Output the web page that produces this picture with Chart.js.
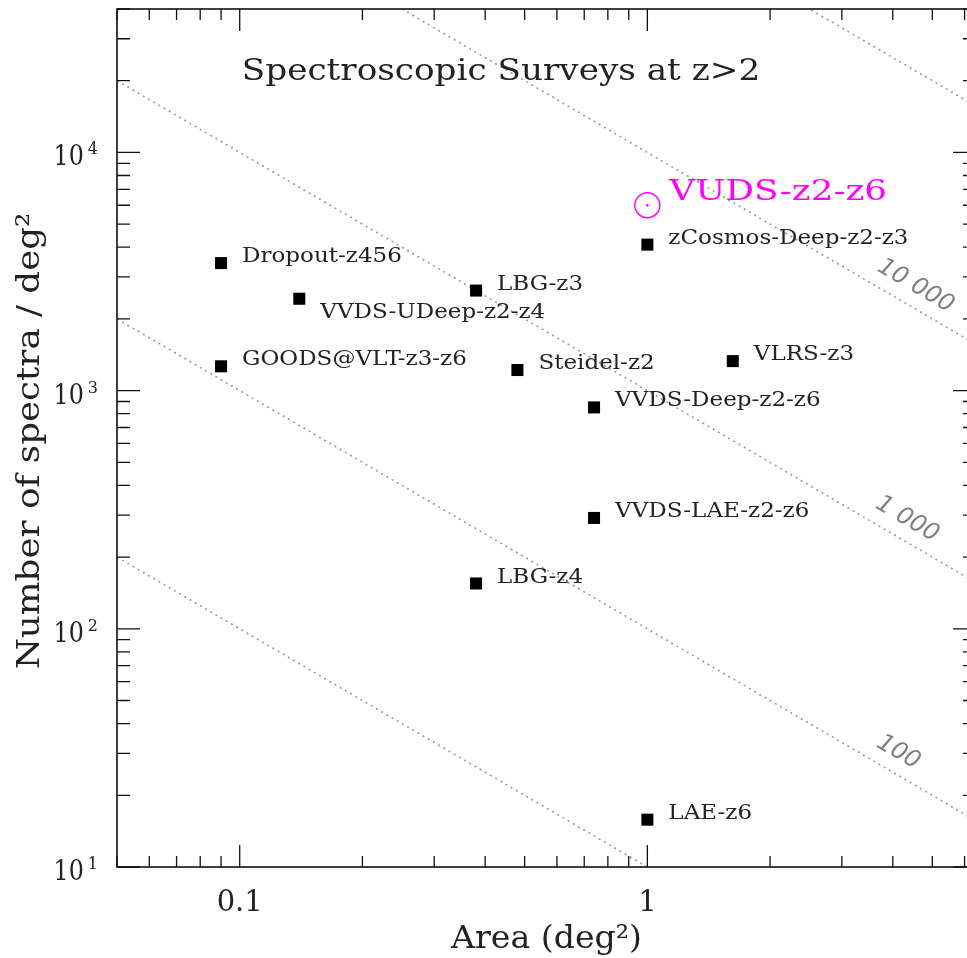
<!DOCTYPE html>
<html>
<head>
<meta charset="utf-8">
<title>Spectroscopic Surveys at z&gt;2</title>
<script src="https://cdn.jsdelivr.net/npm/chart.js@4.4.1/dist/chart.umd.min.js"></script>
<style>
  html, body { margin: 0; padding: 0; background: #fff; overflow: hidden; }
  #wrap { width: 980px; height: 958px; }
</style>
</head>
<body>
<div id="wrap"><canvas id="surveys" width="980" height="958"></canvas></div>
<script>
// surveys: area (deg^2) vs number of spectra per deg^2
const surveyNames = ['Dropout-z456', 'VVDS-UDeep-z2-z4', 'LBG-z3', 'GOODS@VLT-z3-z6', 'Steidel-z2',
  'VVDS-Deep-z2-z6', 'zCosmos-Deep-z2-z3', 'VLRS-z3', 'VVDS-LAE-z2-z6', 'LBG-z4', 'LAE-z6'];
const surveyArea = [0.09, 0.14, 0.38, 0.09, 0.48, 0.74, 1.0, 1.62, 0.74, 0.38, 1.0];
const surveyDensity = [3430, 2430, 2630, 1265, 1220, 850, 4100, 1330, 292, 155, 15.8];

const vudsName = 'VUDS-z2-z6';
const vudsArea = [1.0];
const vudsDensity = [6000];

// constant total number of spectra (area x density)
const totalLevels = [10, 100, 1000, 10000, 100000];
const totalLabels = ['', '100', '1 000', '10 000', ''];

const xTickValues = [0.1, 1];
const xTickLabels = ['0.1', '1'];
const yTickValues = [10, 100, 1000, 10000];
const yTickExponents = ['1', '2', '3', '4'];

const xMin = 0.05, xMax = 6.4;
const yMin = 10, yMax = 40000;

const SERIF = '"DejaVu Serif", "Liberation Serif", serif';

function pickLabel(values, labels, value) {
  const i = values.findIndex(v => Math.abs(v - value) < v * 1e-6);
  return i >= 0 ? labels[i] : '';
}

// text drawn a bit wider than the font, like the old plotting fonts
function wideText(ctx, text, x, y, stretch, rotation) {
  ctx.save();
  ctx.translate(x, y);
  if (rotation) ctx.rotate(rotation);
  ctx.scale(stretch, 1);
  ctx.fillText(text, 0, 0);
  ctx.restore();
}

// box with inward ticks on all four sides, plus the y tick labels
const frameTicks = {
  id: 'frameTicks',
  afterDraw(chart) {
    const { ctx, chartArea: a, scales: { x, y } } = chart;
    ctx.save();
    ctx.strokeStyle = '#111';
    ctx.lineWidth = 1.6;
    ctx.strokeRect(a.left, a.top, a.right - a.left, a.bottom - a.top);
    ctx.lineWidth = 1.3;
    ctx.beginPath();
    for (let d = -2; d <= 5; d++) {
      for (let k = 1; k <= 9; k++) {
        const v = k * Math.pow(10, d);
        const major = k === 1;
        if (v >= x.min * 0.999 && v <= x.max) {
          const px = x.getPixelForValue(v);
          const len = major ? 22 : 11;
          ctx.moveTo(px, a.bottom); ctx.lineTo(px, a.bottom - len);
          ctx.moveTo(px, a.top); ctx.lineTo(px, a.top + len);
        }
        if (v >= y.min && v <= y.max) {
          const py = y.getPixelForValue(v);
          const len = major ? 23 : 13;
          ctx.moveTo(a.left, py); ctx.lineTo(a.left + len, py);
          ctx.moveTo(a.right, py); ctx.lineTo(a.right - len, py);
        }
      }
    }
    ctx.stroke();

    // 10^n labels with a raised exponent
    ctx.fillStyle = '#222';
    ctx.textAlign = 'right';
    ctx.textBaseline = 'alphabetic';
    yTickValues.forEach((v, i) => {
      const py = y.getPixelForValue(v);
      const right = a.left - 19;
      ctx.font = '16px ' + SERIF;
      const ew = ctx.measureText(yTickExponents[i]).width;
      ctx.fillText(yTickExponents[i], right, py + 2);
      ctx.font = '27px ' + SERIF;
      wideText(ctx, '10', right - ew - 4, py + 13, 0.88);
    });
    ctx.restore();
  }
};

// titles, survey names and labels on the constant-total lines
const plotText = {
  id: 'plotText',
  afterDatasetsDraw(chart) {
    const { ctx, chartArea: a, scales: { x, y } } = chart;
    ctx.save();
    ctx.textBaseline = 'middle';

    ctx.fillStyle = '#222';
    ctx.textAlign = 'center';
    ctx.font = '29px ' + SERIF;
    wideText(ctx, 'Spectroscopic Surveys at z>2', 501, 72, 1.18);

    ctx.font = '31px ' + SERIF;
    wideText(ctx, 'Area (deg²)', (a.left + a.right) / 2, 940, 1.07);
    wideText(ctx, 'Number of spectra / deg²', 31, (a.top + a.bottom) / 2 + 3, 1.15, -Math.PI / 2);

    ctx.textAlign = 'left';
    ctx.font = '19.5px ' + SERIF;
    const pts = chart.getDatasetMeta(totalLevels.length).data;
    pts.forEach((p, i) => {
      const below = surveyNames[i] === 'VVDS-UDeep-z2-z4';
      wideText(ctx, surveyNames[i], p.x + 21, p.y + (below ? 14 : -6), 1.18);
    });

    const v = chart.getDatasetMeta(totalLevels.length + 1).data[0];
    ctx.fillStyle = '#ff00ff';
    ctx.font = '27.5px ' + SERIF;
    wideText(ctx, vudsName, v.x + 22, v.y - 12, 1.3);

    // labels sit just above their line, near the right edge
    const labelAt = [0, 3.9, 4.1, 4.3, 0];
    ctx.fillStyle = '#808080';
    ctx.textAlign = 'center';
    ctx.font = 'italic 24px "DejaVu Sans", sans-serif';
    totalLevels.forEach((lvl, i) => {
      if (!totalLabels[i]) return;
      const ax = labelAt[i];
      const px = x.getPixelForValue(ax), py = y.getPixelForValue(lvl / ax);
      const qx = x.getPixelForValue(ax * 2), qy = y.getPixelForValue(lvl / (ax * 2));
      const t = Math.atan2(qy - py, qx - px);
      const off = 20;
      wideText(ctx, totalLabels[i], px + off * Math.sin(t), py - off * Math.cos(t), 1, t);
    });
    ctx.restore();
  }
};

const totalSets = totalLevels.map(lvl => ({
  data: [{ x: xMin, y: lvl / xMin }, { x: xMax, y: lvl / xMax }],
  showLine: true,
  borderColor: '#999',
  borderWidth: 1.6,
  borderDash: [2, 4],
  pointRadius: 0,
  order: 3
}));

new Chart(document.getElementById('surveys'), {
  type: 'scatter',
  data: {
    datasets: [
      ...totalSets,
      {
        data: surveyArea.map((a, i) => ({ x: a, y: surveyDensity[i] })),
        pointStyle: 'rect',
        pointRadius: 8.5,
        backgroundColor: '#000',
        borderWidth: 0,
        order: 1
      },
      {
        data: vudsArea.map((a, i) => ({ x: a, y: vudsDensity[i] })),
        pointStyle: 'circle',
        pointRadius: 12.5,
        backgroundColor: 'rgba(0,0,0,0)',
        borderColor: '#ff00ff',
        borderWidth: 1.5,
        order: 1
      },
      {
        data: vudsArea.map((a, i) => ({ x: a, y: vudsDensity[i] })),
        pointStyle: 'circle',
        pointRadius: 1.3,
        backgroundColor: '#ff00ff',
        borderWidth: 0,
        order: 0
      }
    ]
  },
  options: {
    responsive: false,
    animation: false,
    events: [],
    layout: { autoPadding: false, padding: { top: 9, right: 4, left: 0, bottom: 0 } },
    plugins: { legend: { display: false }, tooltip: { enabled: false } },
    scales: {
      x: {
        type: 'logarithmic',
        min: xMin,
        max: xMax,
        afterFit: s => { s.height = 91; s.paddingLeft = 0; s.paddingRight = 0; },
        grid: { display: false },
        border: { display: false },
        ticks: {
          autoSkip: false,
          maxRotation: 0,
          padding: 14,
          color: '#222',
          font: { family: SERIF, size: 29, lineHeight: 1 },
          callback: v => pickLabel(xTickValues, xTickLabels, v)
        }
      },
      y: {
        type: 'logarithmic',
        min: yMin,
        max: yMax,
        afterFit: s => { s.width = 117; s.paddingTop = 0; s.paddingBottom = 0; },
        grid: { display: false },
        border: { display: false },
        ticks: { display: false }
      }
    }
  },
  plugins: [frameTicks, plotText]
});
</script>
</body>
</html>
